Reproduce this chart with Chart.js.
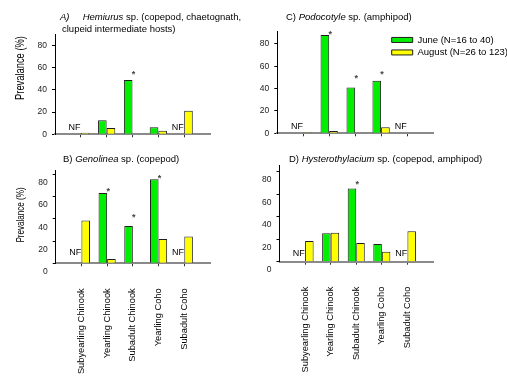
<!DOCTYPE html>
<html>
<head>
<meta charset="utf-8">
<script src="https://cdn.jsdelivr.net/npm/chart.js@4.4.1/dist/chart.umd.min.js"></script>
<style>
    body { margin: 0; background: #fff; width: 507px; height: 376px; position: relative; overflow: hidden; font-family: "Liberation Sans", Arial, sans-serif; }
    canvas { position: absolute; left: 0; top: 0; }
    .t { position: absolute; font-size: 9.5px; line-height: 10px; white-space: pre; color: #000; }
    .yl { position: absolute; white-space: pre; color: #000; transform: translate(-50%, -50%) rotate(-90deg) scale(0.85, 1.1); }
</style>
</head>
<body>
<canvas id="chartA" width="507" height="376"></canvas>
<canvas id="chartB" width="507" height="376"></canvas>
<canvas id="chartC" width="507" height="376"></canvas>
<canvas id="chartD" width="507" height="376"></canvas>

<div class="t" style="left:60px;top:12px"><i>A)</i>     <i>Hemiurus</i> sp. (copepod, chaetognath,</div>
<div class="t" style="left:62px;top:24px">clupeid intermediate hosts)</div>
<div class="t" style="left:286px;top:12px">C) <i>Podocotyle</i> sp. (amphipod)</div>
<div class="t" style="left:63px;top:154px">B) <i>Genolinea</i> sp. (copepod)</div>
<div class="t" style="left:289px;top:154px">D) <i>Hysterothylacium</i> sp. (copepod, amphipod)</div>
<div class="yl" style="left:20px;top:68px;font-size:11px">Prevalance (%)</div>
<div class="yl" style="left:20px;top:215px;font-size:9.5px">Prevalance (%)</div>

<script>
    const categories = ['Subyearling Chinook', 'Yearling Chinook', 'Subadult Chinook', 'Yearling Coho', 'Subadult Coho']
    const seriesNames = ['June (N=16 to 40)', 'August (N=26 to 123)']

    // null = NF (not found in that month)
    const juneA = [null, 12.6, 48.9, 6.3, null]
    const augA = [1.5, 5.7, 0, 3.3, 21.3]
    const starA = [null, null, 56, null, null]

    const juneB = [null, 63.3, 33.5, 75.6, null]
    const augB = [38.5, 3.9, 0, 21.8, 24.2]
    const starB = [null, 67.3, 43.6, 78.6, null]

    const juneC = [null, 88, 41, 47, null]
    const augC = [1, 2, 0, 5.4, 0]
    const starC = [null, 91, 51, 55, null]

    const juneD = [null, 25.2, 65.2, 15.7, null]
    const augD = [18.4, 25.8, 16.6, 8.9, 27]
    const starD = [null, null, 70.6, null, null]

    const yTicks = [0, 20, 40, 60, 80]

    const GREEN = '#00ee00'
    const YELLOW = '#ffff00'
    const EDGE = '#1e1e1e'
    const FONT = '"Liberation Sans", Arial, sans-serif'
    const groupPct = 0.667
    const Y_W = 40

    // pad the category axis so the groups sit one slot in from each end
    const labels = ['', ...categories, '']
    const pad = arr => [null, ...arr, null]

    const marksPlugin = (june, stars, nfLift) => ({
        id: 'marks',
        afterDatasetsDraw(chart) {
            const { ctx, scales: { x, y } } = chart
            const catW = x.getPixelForValue(1) - x.getPixelForValue(0)
            ctx.save()
            ctx.textAlign = 'center'
            ctx.textBaseline = 'alphabetic'
            june.forEach((v, i) => {
                if (v !== null) return
                ctx.fillStyle = '#000'
                ctx.font = `9px ${FONT}`
                ctx.fillText('NF', x.getPixelForValue(i + 1) - catW * groupPct / 4 - 2, y.getPixelForValue(0) - nfLift)
            })
            stars.forEach((v, i) => {
                if (v === null) return
                ctx.fillStyle = '#444'
                ctx.font = `bold 9px ${FONT}`
                ctx.fillText('*', x.getPixelForValue(i + 1) + 1, y.getPixelForValue(v) + 5)
            })
            ctx.restore()
        }
    })

    const legendAt = (left, top) => ({
        id: 'legendAt',
        beforeDraw(chart) {
            const lg = chart.legend
            const w = lg.width, h = lg.height
            lg.left = left
            lg.top = top
            lg.right = left + w
            lg.bottom = top + h
        }
    })

    const makeChart = (id, area, yMax, june, aug, stars, opts) => {
        const ctx = document.getElementById(id).getContext('2d')
        const plugins = [marksPlugin(june, stars, opts.nfLift)]
        if (opts.legend) plugins.push(legendAt(388.7, 32.2))
        const xH = opts.xLabels ? Math.floor(376 - area.b) : 30

        return new Chart(ctx, {
            type: 'bar',
            data: {
                labels: labels,
                datasets: [{
                    label: seriesNames[0],
                    data: pad(june),
                    backgroundColor: GREEN,
                    borderColor: EDGE,
                    borderWidth: 1
                }, {
                    label: seriesNames[1],
                    data: pad(aug),
                    backgroundColor: YELLOW,
                    borderColor: EDGE,
                    borderWidth: 1
                }]
            },
            options: {
                responsive: false,
                animation: false,
                events: [],
                devicePixelRatio: 1,
                categoryPercentage: groupPct,
                barPercentage: 1,
                layout: {
                    padding: {
                        left: area.l - Y_W,
                        top: area.t,
                        right: 507 - area.r,
                        bottom: 376 - area.b - xH
                    }
                },
                plugins: {
                    tooltip: { enabled: false },
                    legend: {
                        display: !!opts.legend,
                        position: 'chartArea',
                        align: 'start',
                        labels: {
                            boxWidth: 21,
                            boxHeight: 5,
                            padding: 3,
                            color: '#000',
                            font: { family: FONT, size: 9.5 }
                        }
                    }
                },
                scales: {
                    x: {
                        type: 'category',
                        offset: false,
                        afterFit: s => { s.height = xH },
                        grid: {
                            offset: false,
                            drawOnChartArea: false,
                            tickLength: 3,
                            tickColor: c => (c.index === 0 || c.index === labels.length - 1) ? 'rgba(0,0,0,0)' : '#333'
                        },
                        border: { color: '#8a8a8a', width: 2 },
                        ticks: {
                            display: !!opts.xLabels,
                            autoSkip: false,
                            minRotation: 90,
                            maxRotation: 90,
                            padding: 22,
                            color: '#000',
                            font: { family: FONT, size: 9.3 }
                        }
                    },
                    y: {
                        min: 0,
                        max: yMax,
                        afterFit: s => { s.width = Y_W },
                        afterBuildTicks: s => { s.ticks = yTicks.map(v => ({ value: v })) },
                        grid: { drawOnChartArea: false, tickLength: 3, color: '#000' },
                        border: { color: '#000', width: 1 },
                        ticks: {
                            padding: 5,
                            labelOffset: opts.labelOffset || 0,
                            color: '#222',
                            font: { family: FONT, size: 8.5 }
                        }
                    }
                }
            },
            plugins: plugins
        })
    }

    makeChart('chartA', { l: 55, r: 210, t: 34.3, b: 134.3 }, 90, juneA, augA, starA, { nfLift: 4 })
    makeChart('chartB', { l: 55.7, r: 210, t: 170, b: 263.3 }, 84, juneB, augB, starB, { nfLift: 8, labelOffset: 8.3, xLabels: true })
    makeChart('chartC', { l: 277.3, r: 433, t: 31.7, b: 133.3 }, 91, juneC, augC, starC, { nfLift: 4, legend: true })
    makeChart('chartD', { l: 279.5, r: 433, t: 165, b: 261.7 }, 86, juneD, augD, starD, { nfLift: 6, labelOffset: 8.3, xLabels: true })
</script>
</body>
</html>
